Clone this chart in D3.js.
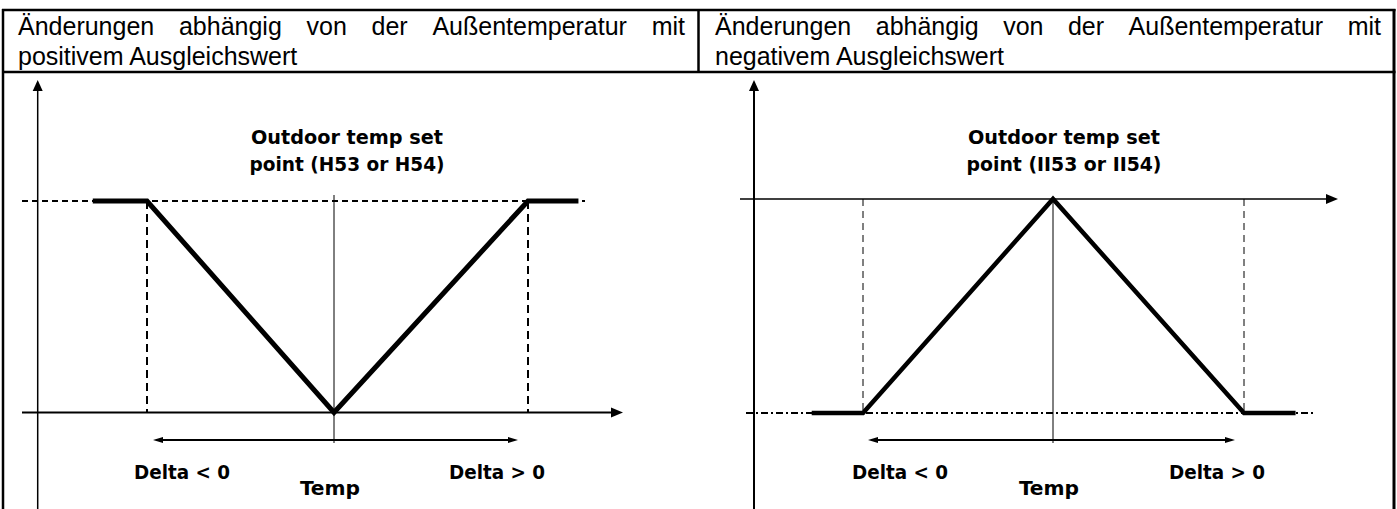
<!DOCTYPE html>
<html>
<head>
<meta charset="utf-8">
<title>Änderungen abhängig von der Außentemperatur</title>
<style>
html, body { margin: 0; padding: 0; background: #fff; }
#chart { width: 1397px; height: 509px; }
.head text { font-family: 'Liberation Sans', Arial, sans-serif; font-size: 25px; fill: #000; }
.lbl { font-family: 'DejaVu Sans Condensed', 'DejaVu Sans', sans-serif; font-weight: bold; fill: #000; }
</style>
<script src="https://d3js.org/d3.v7.min.js"></script>
</head>
<body>
<div id="chart"></div>
<script>
// header cells
var head_line1 = "Änderungen abhängig von der Außentemperatur mit";
var head_line2 = ["positivem Ausgleichswert", "negativem Ausgleichswert"];

// curves: temp in delta units (-1 / +1 are the dashed limits), level 0 = low, 1 = high
var temp_pos  = [-1.29, -1, 0, 1, 1.26];
var level_pos = [1, 1, 0, 1, 1];
var temp_neg  = [-1.27, -1, 0, 1, 1.27];
var level_neg = [0, 0, 1, 0, 0];
var limits = [-1, 1];

// labels
var set_point_pos = ["Outdoor temp set", "point (H53 or H54)"];
var set_point_neg = ["Outdoor temp set", "point (II53 or II54)"];
var delta_labels = ["Delta < 0", "Delta > 0"];
var axis_label = "Temp";

var W = 1397, H = 509;

var svg = d3.select("#chart").append("svg")
            .attr("width", W)
            .attr("height", H);

svg.append("rect").attr("width", W).attr("height", H).attr("fill", "#fff");

// layout of the two cells (pixels)
var panels = [
  { temp: temp_pos, level: level_pos, xr: [147, 334, 528], yr: [412.5, 201],
    yaxis: 37.7, yaxisW: 1.5, xaxis: { level: 0, x0: 22, x1: 623, w: 2 },
    ref: { level: 1, x0: 22, x1: 585, dash: "6,4", w: 2 },
    limDash: "8,5", limW: 2, center: [195, 443], span: [153, 518], spanY: 440,
    title: set_point_pos, titleX: 347, deltaX: [182, 497], tempX: 330, curveW: 5,
    head: { x0: 18, x1: 685, line2: head_line2[0] } },
  { temp: temp_neg, level: level_neg, xr: [863, 1053, 1244], yr: [413, 199],
    yaxis: 754, yaxisW: 2, xaxis: { level: 1, x0: 740, x1: 1338, w: 1.6 },
    ref: { level: 0, x0: 746, x1: 1313, dash: "7,3,2,3", w: 2 },
    limDash: "7,5", limW: 1, center: [199, 443], span: [868, 1235], spanY: 440,
    title: set_point_neg, titleX: 1064, deltaX: [900, 1217], tempX: 1049, curveW: 4.5,
    head: { x0: 715, x1: 1381, line2: head_line2[1] } }
];

// table borders
var grid = svg.append("g").attr("stroke", "#000").attr("fill", "none");
grid.append("line").attr("x1", 3).attr("x2", 3).attr("y1", 9).attr("y2", H).attr("stroke-width", 2.5);
grid.append("line").attr("x1", 1394).attr("x2", 1394).attr("y1", 9).attr("y2", H).attr("stroke-width", 3);
grid.append("line").attr("x1", 2).attr("x2", 1395.5).attr("y1", 10).attr("y2", 10).attr("stroke-width", 2.5);
grid.append("line").attr("x1", 2).attr("x2", 1395.5).attr("y1", 72).attr("y2", 72).attr("stroke-width", 2.5);
grid.append("line").attr("x1", 698.5).attr("x2", 698.5).attr("y1", 9).attr("y2", 72).attr("stroke-width", 2.5);

// justified first line of a header cell
function justify(g, words, x0, x1, y) {
  var t = g.selectAll(null).data(words).enter().append("text")
           .attr("y", y).text(function(d) { return d; });
  var widths = [];
  t.each(function() { widths.push(this.getComputedTextLength()); });
  var gap = (x1 - x0 - d3.sum(widths)) / (words.length - 1);
  var pos = [], x = x0;
  widths.forEach(function(w) { pos.push(x); x += w + gap; });
  t.attr("x", function(d, i) { return pos[i]; });
}

function arrow(g, x, y, dx, dy, len, half) {
  // filled arrow head, tip at (x,y), pointing along (dx,dy)
  var bx = x - dx * len, by = y - dy * len;
  var px = -dy * half, py = dx * half;
  g.append("path")
   .attr("d", "M" + x + "," + y + "L" + (bx + px) + "," + (by + py) + "L" + (bx - px) + "," + (by - py) + "Z")
   .attr("fill", "#000");
}

panels.forEach(function(p) {
  var head = svg.append("g").attr("class", "head");
  justify(head, head_line1.split(" "), p.head.x0, p.head.x1, 35);
  head.append("text").attr("x", p.head.x0).attr("y", 65).text(p.head.line2);

  var x = d3.scaleLinear().domain([-1, 0, 1]).range(p.xr);
  var y = d3.scaleLinear().domain([0, 1]).range(p.yr);
  var g = svg.append("g");

  // y axis
  g.append("line").attr("x1", p.yaxis).attr("x2", p.yaxis).attr("y1", 88).attr("y2", H)
   .attr("stroke", "#000").attr("stroke-width", p.yaxisW);
  arrow(g, p.yaxis, 80, 0, -1, 11, 5);

  // dashed reference level
  g.append("line").attr("x1", p.ref.x0).attr("x2", p.ref.x1)
   .attr("y1", y(p.ref.level)).attr("y2", y(p.ref.level))
   .attr("stroke", "#000").attr("stroke-width", p.ref.w).attr("stroke-dasharray", p.ref.dash);

  // dashed limits
  g.selectAll(".lim").data(limits).enter().append("line")
   .attr("x1", function(d) { return x(d); }).attr("x2", function(d) { return x(d); })
   .attr("y1", y(1)).attr("y2", y(0))
   .attr("stroke", "#000").attr("stroke-width", p.limW).attr("stroke-dasharray", p.limDash);

  // temp axis
  var ya = y(p.xaxis.level);
  g.append("line").attr("x1", p.xaxis.x0).attr("x2", p.xaxis.x1 - 8).attr("y1", ya).attr("y2", ya)
   .attr("stroke", "#000").attr("stroke-width", p.xaxis.w);
  arrow(g, p.xaxis.x1, ya, 1, 0, 12, 5);

  // set point line
  g.append("line").attr("x1", x(0)).attr("x2", x(0)).attr("y1", p.center[0]).attr("y2", p.center[1])
   .attr("stroke", "#000").attr("stroke-width", 1);

  // delta span with two heads
  g.append("line").attr("x1", p.span[0] + 6).attr("x2", p.span[1] - 6).attr("y1", p.spanY).attr("y2", p.spanY)
   .attr("stroke", "#000").attr("stroke-width", 2);
  arrow(g, p.span[0], p.spanY, -1, 0, 10, 3);
  arrow(g, p.span[1], p.spanY, 1, 0, 10, 3);

  // curve
  var pts = p.temp.map(function(t, i) { return [t, p.level[i]]; });
  g.append("path")
   .datum(pts)
   .attr("d", d3.line().x(function(d) { return x(d[0]); }).y(function(d) { return y(d[1]); }))
   .attr("fill", "none").attr("stroke", "#000").attr("stroke-width", p.curveW)
   .attr("stroke-linejoin", "miter");

  // labels
  g.append("text").attr("class", "lbl").attr("x", p.titleX).attr("y", 144)
   .attr("text-anchor", "middle").attr("font-size", 19)
   .attr("textLength", 192).attr("lengthAdjust", "spacingAndGlyphs").text(p.title[0]);
  g.append("text").attr("class", "lbl").attr("x", p.titleX).attr("y", 171)
   .attr("text-anchor", "middle").attr("font-size", 19)
   .attr("textLength", 195).attr("lengthAdjust", "spacingAndGlyphs").text(p.title[1]);

  g.selectAll(".dl").data(delta_labels).enter().append("text")
   .attr("class", "lbl").attr("x", function(d, i) { return p.deltaX[i]; }).attr("y", 479)
   .attr("text-anchor", "middle").attr("font-size", 20)
   .attr("textLength", 96).attr("lengthAdjust", "spacingAndGlyphs").text(function(d) { return d; });

  g.append("text").attr("class", "lbl").attr("x", p.tempX).attr("y", 495)
   .attr("text-anchor", "middle").attr("font-size", 20)
   .attr("textLength", 60).attr("lengthAdjust", "spacingAndGlyphs").text(axis_label);
});
</script>
</body>
</html>
